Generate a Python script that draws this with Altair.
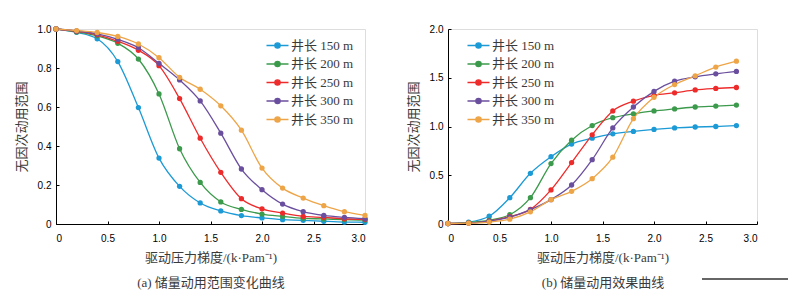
import altair as alt
import pandas as pd

# ---------------- data ----------------
series_names = ["井长 150 m", "井长 200 m", "井长 250 m", "井长 300 m", "井长 350 m"]
series_colors = ["#1C9AD6", "#3B9A4B", "#EE2B2B", "#6B4F9F", "#EEA548"]

# (a) 储量动用范围变化曲线
x_a = [0, 0.2, 0.4, 0.6, 0.8, 1.0, 1.2, 1.4, 1.6, 1.8, 2.0, 2.2, 2.4, 2.6, 2.8, 3.0]
a_150 = [1.0, 0.983, 0.95, 0.833, 0.597, 0.338, 0.193, 0.108, 0.067, 0.043, 0.031, 0.022, 0.019, 0.014, 0.010, 0.009]
a_200 = [1.0, 0.985, 0.965, 0.927, 0.846, 0.667, 0.386, 0.213, 0.113, 0.075, 0.051, 0.039, 0.029, 0.026, 0.022, 0.020]
a_250 = [1.0, 0.988, 0.970, 0.937, 0.891, 0.812, 0.643, 0.440, 0.265, 0.130, 0.078, 0.056, 0.039, 0.034, 0.027, 0.024]
a_300 = [1.0, 0.990, 0.975, 0.947, 0.904, 0.824, 0.739, 0.631, 0.466, 0.282, 0.176, 0.102, 0.063, 0.044, 0.034, 0.027]
a_350 = [1.0, 0.992, 0.982, 0.962, 0.923, 0.853, 0.752, 0.691, 0.606, 0.481, 0.287, 0.184, 0.133, 0.094, 0.063, 0.044]

# (b) 储量动用效果曲线
x_b = [0, 0.2, 0.4, 0.6, 0.8, 1.0, 1.2, 1.4, 1.6, 1.8, 2.0, 2.2, 2.4, 2.6, 2.8]
b_150 = [0.005, 0.02, 0.08, 0.27, 0.52, 0.69, 0.82, 0.88, 0.925, 0.95, 0.97, 0.985, 0.995, 1.0, 1.01]
b_200 = [0.005, 0.015, 0.04, 0.095, 0.27, 0.62, 0.86, 1.01, 1.09, 1.13, 1.16, 1.18, 1.20, 1.21, 1.22]
b_250 = [0.005, 0.01, 0.03, 0.075, 0.15, 0.35, 0.63, 0.915, 1.16, 1.26, 1.32, 1.345, 1.375, 1.39, 1.40]
b_300 = [0.005, 0.01, 0.03, 0.07, 0.147, 0.25, 0.40, 0.66, 0.985, 1.20, 1.36, 1.465, 1.51, 1.54, 1.565]
b_350 = [0.005, 0.008, 0.02, 0.05, 0.125, 0.25, 0.335, 0.465, 0.685, 1.08, 1.30, 1.43, 1.52, 1.61, 1.67]

x_ticks_a = [0, 0.5, 1.0, 1.5, 2.0, 2.5, 3.0]
y_ticks_a = [0, 0.2, 0.4, 0.6, 0.8, 1.0]
x_ticks_b = [0, 0.5, 1.0, 1.5, 2.0, 2.5, 3.0]
y_ticks_b = [0, 0.5, 1.0, 1.5, 2.0]

x_title = "驱动压力梯度/(k·Pam⁻¹)"
y_title = "无因次动用范围"
caption_a = "(a) 储量动用范围变化曲线"
caption_b = "(b) 储量动用效果曲线"


def long_df(xs, cols):
    rows = []
    for name, ys in zip(series_names, cols):
        for x, y in zip(xs, ys):
            rows.append({"x": x, "y": y, "s": name})
    return pd.DataFrame(rows)


df_a = long_df(x_a, [a_150, a_200, a_250, a_300, a_350])
df_b = long_df(x_b, [b_150, b_200, b_250, b_300, b_350])

SERIF = "Times New Roman, Liberation Serif, Noto Sans CJK SC"
TXT = "#3a3a3a"
LBL_FMT = "datum.value == 0 ? '0' : format(datum.value, '.1f')"

# legend glyph: short line with a dot in the middle
SYMBOL_PATH = "M-3.67,0L3.67,0M-0.87,0A0.87,0.87,0,1,1,0.87,0A0.87,0.87,0,1,1,-0.87,0Z"

W, H = 309, 195


def make_legend(legx, legy):
    return alt.Legend(
        title=None,
        orient="none",
        legendX=legx,
        legendY=legy,
        symbolType=SYMBOL_PATH,
        symbolSize=36,
        symbolStrokeWidth=1.4,
        symbolOpacity=1,
        labelFont=SERIF,
        labelFontSize=13,
        labelColor=TXT,
        labelOffset=7,
        rowPadding=4.5,
        padding=0,
    )


def panel(df, xdom, ydom, xticks, yticks, legx, legy, extra=None, caption=""):
    xscale = alt.Scale(domain=xdom, nice=False, zero=False)
    yscale = alt.Scale(domain=ydom, nice=False, zero=False)
    cscale = alt.Scale(domain=series_names, range=series_colors)

    lines = alt.Chart(df).mark_line(interpolate="monotone", strokeWidth=1.3).encode(
        x=alt.X(
            "x:Q",
            scale=xscale,
            axis=alt.Axis(
                values=xticks, labelExpr=LBL_FMT, ticks=False, tickSize=0,
                labelPadding=9, title=[x_title, caption], titlePadding=8,
                titleLineHeight=25, titleFontSize=13, titleFontWeight="normal",
                titleFont=SERIF, titleColor=TXT, orient="bottom",
                domainColor="black", grid=False,
            ),
        ),
        y=alt.Y(
            "y:Q",
            scale=yscale,
            axis=alt.Axis(
                values=yticks, labelExpr=LBL_FMT, ticks=False, tickSize=0,
                labelPadding=5, title=y_title, titlePadding=9,
                titleFontSize=13, titleFontWeight="normal", titleFont=SERIF,
                titleColor=TXT, orient="left",
                domainColor="black", grid=False,
            ),
        ),
        color=alt.Color("s:N", scale=cscale, sort=series_names,
                        legend=make_legend(legx, legy)),
    )
    points = alt.Chart(df).mark_circle(size=28, opacity=1).encode(
        x=alt.X(
            "x:Q",
            scale=xscale,
            axis=alt.Axis(
                values=xticks, labels=False, domain=False, ticks=True, tickSize=3,
                offset=-3, title=None, orient="bottom", grid=False, tickColor="black",
            ),
        ),
        y=alt.Y(
            "y:Q",
            scale=yscale,
            axis=alt.Axis(
                values=yticks, labels=False, domain=False, ticks=True, tickSize=3,
                offset=-3, title=None, orient="left", grid=False, tickColor="black",
            ),
        ),
        fill=alt.Fill("s:N", scale=cscale, sort=series_names,
                      legend=make_legend(legx, legy)),
    )
    layers = [lines, points]
    if extra is not None:
        layers.append(extra)
    return alt.layer(*layers).resolve_axis(x="independent", y="independent").properties(
        width=W, height=H
    )


deco = alt.Chart(pd.DataFrame({"k": [0]})).mark_rule(color="#333333", strokeWidth=1.5).encode(
    x=alt.value(254), x2=alt.value(340), y=alt.value(250)
)

left = panel(df_a, [0, 3], [0, 1], x_ticks_a, y_ticks_a, 215, 10, caption=caption_a)
right = panel(df_b, [0, 3], [0, 2], x_ticks_b, y_ticks_b, 24, 10, extra=deco, caption=caption_b)

chart = (
    alt.hconcat(left, right, spacing=37)
    .resolve_scale(color="independent", fill="independent")
    .resolve_legend(color="independent", fill="independent")
    .properties(padding={"left": 14, "top": 23, "right": 0, "bottom": 0})
    .configure_view(stroke="black", strokeWidth=1)
    .configure_axis(
        labelFont=SERIF, labelFontSize=13, labelColor=TXT,
        titleFont=SERIF, titleFontSize=13, titleFontWeight="normal", titleColor=TXT,
    )
    .configure(background="white")
)

chart.save("out.html", embed_options={"renderer": "svg", "actions": False})
